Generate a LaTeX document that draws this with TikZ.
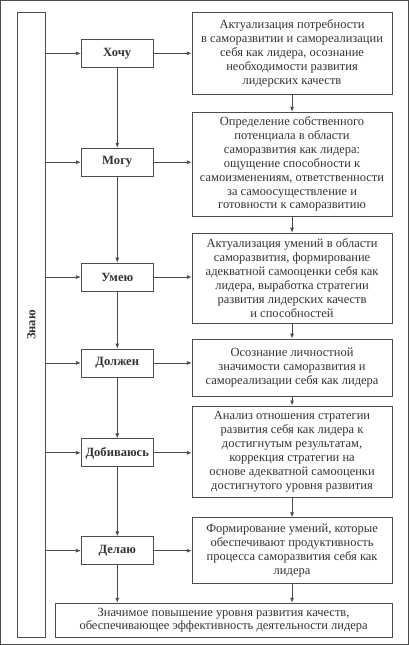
\documentclass[tikz,border=0pt]{standalone}
\usepackage{fontspec}
\setmainfont{Liberation Serif}
\usepackage{xcolor}
\usetikzlibrary{
	arrows.meta,
	positioning
}
\definecolor{linegray}{gray}{0.3}
\definecolor{textgray}{gray}{0.2}

\begin{document}
\begin{tikzpicture}[x=1pt, y=-1pt,
	line width=0.8pt,
	>={Latex[length=5pt,width=4pt]},
	every path/.style={draw=linegray},
	stage/.style={draw=linegray, text=textgray, minimum width=72pt, minimum height=28pt,
		inner sep=0pt, font=\fontsize{12.6}{14}\selectfont\bfseries},
	descr/.style={draw=linegray, text=textgray, minimum width=200pt, align=center,
		inner sep=0pt, font=\fontsize{12.5}{13.9}\selectfont}
	]
	\useasboundingbox (0,0) rectangle (409,645);
	
	% левая рамка
	\node[draw=linegray, text=textgray, rotate=90, minimum width=626pt, minimum height=28pt,
		inner sep=0pt, font=\fontsize{12.6}{14}\selectfont\bfseries] (znayu) at (31,325) {Знаю};
	
	% ступени
	\node[stage] (hochu) at (117,53) {Хочу};
	\node[stage] (mogu) at (117,162) {Могу};
	\node[stage] (umeyu) at (117,277) {Умею};
	\node[stage] (dolzhen) at (117,363) {Должен};
	\node[stage] (dobivayus) at (117,453) {Добиваюсь};
	\node[stage] (delayu) at (117,551) {Делаю};
	
	% описания
	\node[descr, minimum height=82pt] (aktual) at (292,53) {Актуализация потребности\\
		в саморазвитии и самореализации\\ себя как лидера, осознание\\
		необходимости развития\\ лидерских качеств};
	\node[descr, minimum height=104pt] (opred) at (292,164) {Определение собственного\\
		потенциала в области\\ саморазвития как лидера:\\ ощущение способности к\\
		самоизменениям, ответственности\\ за самоосуществление и\\ готовности к саморазвитию};
	\node[descr, minimum height=90pt] (umeniya) at (292,278) {Актуализация умений в области\\
		саморазвития, формирование\\ адекватной самооценки себя как\\
		лидера, выработка стратегии\\ развития лидерских качеств\\ и способностей};
	\node[descr, minimum height=57pt] (osozn) at (292,367.5) {Осознание личностной\\
		значимости саморазвития и\\ самореализации себя как лидера};
	\node[descr, minimum height=92pt] (analiz) at (292,452) {Анализ отношения стратегии\\
		развития себя как лидера к\\ достигнутым результатам,\\ коррекция стратегии на\\
		основе адекватной самооценки\\ достигнутого уровня развития};
	\node[descr, minimum height=66pt] (formir) at (292,551) {Формирование умений, которые\\
		обеспечивают продуктивность\\ процесса саморазвития себя как\\ лидера};
	
	% итог
	\node[descr, minimum width=337pt, minimum height=34pt] (itog) at (223.5,620.5)
		{Значимое повышение уровня развития качеств,\\
		обеспечивающее эффективность деятельности лидера};
	
	% стрелки по строкам
	\foreach \s/\d in {hochu/aktual, mogu/opred, umeyu/umeniya, dolzhen/osozn,
		dobivayus/analiz, delayu/formir}
	{
		\draw[->] (\s.west -| znayu.south) -- (\s.west);
		\draw[->] (\s.east) -- (\s.east -| \d.west);
	}
	
	% стрелки по столбцам
	\foreach \a/\b in {hochu/mogu, mogu/umeyu, umeyu/dolzhen, dolzhen/dobivayus,
		dobivayus/delayu, aktual/opred, opred/umeniya, umeniya/osozn, osozn/analiz,
		analiz/formir}
	\draw[->] (\a) -- (\b);
	
	\draw[->] (delayu) -- (delayu |- itog.north);
	\draw[->] (formir) -- (formir |- itog.north);
\end{tikzpicture}
\end{document}
